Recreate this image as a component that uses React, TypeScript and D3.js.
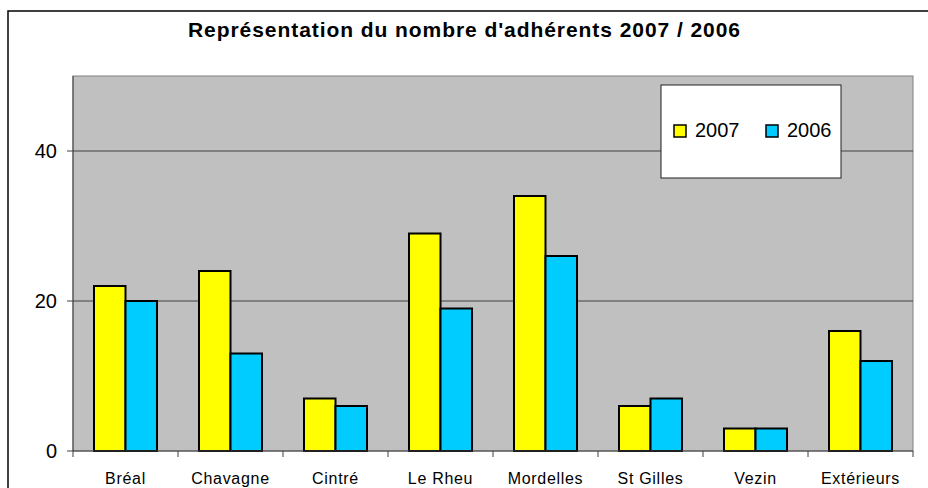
import React from 'react';
import * as d3 from 'd3';

// data
const communes = ['Bréal', 'Chavagne', 'Cintré', 'Le Rheu', 'Mordelles', 'St Gilles', 'Vezin', 'Extérieurs'];
const series = ['2007', '2006'];
const values2007 = [22, 24, 7, 29, 34, 6, 3, 16];
const values2006 = [20, 13, 6, 19, 26, 7, 3, 12];
const yTicks = [0, 20, 40];
const colors = ['#FFFF00', '#00CCFF'];

const W = 928;
const H = 488;
const plot = { left: 73, right: 913, top: 76, bottom: 451 };
const font = '"Liberation Sans", Arial, sans-serif';

const App = () => {
  const x = d3.scaleBand().domain(communes).range([plot.left, plot.right]);
  const inner = d3.scaleBand().domain(series).range([0, x.bandwidth()]).paddingInner(0).paddingOuter(0.667);
  const y = d3.scaleLinear().domain([0, 50]).range([plot.bottom, plot.top]);
  const seriesValues = [values2007, values2006];

  // tick marks at the band edges on the x axis
  const xEdges = communes.map(c => x(c)).concat([plot.right]);

  return (
    <div style={{ position: 'absolute', left: 0, top: 0 }}>
      <svg width={W} height={H} style={{ display: 'block', fontFamily: font }}>
        <rect x={0} y={0} width={W} height={H} fill="#fff" />
        <rect x={8} y={11} width={W + 20} height={H + 20} fill="none" stroke="#000" strokeWidth={1.5} />

        <text x={464} y={37} textAnchor="middle" fontSize={21} fontWeight="bold" textLength={552} lengthAdjust="spacing">
          Représentation du nombre d'adhérents 2007 / 2006
        </text>

        {/* plot area */}
        <rect x={plot.left} y={plot.top} width={plot.right - plot.left} height={plot.bottom - plot.top}
          fill="#C0C0C0" stroke="#808080" strokeWidth={1} />

        {yTicks.filter(t => t > 0).map(t => (
          <line key={'g' + t} x1={plot.left} x2={plot.right} y1={y(t)} y2={y(t)} stroke="#404040" strokeWidth={1} />
        ))}

        {/* bars */}
        {communes.map((c, i) => (
          <g key={c}>
            {series.map((s, j) => (
              <rect key={s}
                x={x(c)! + inner(s)!}
                y={y(seriesValues[j][i])}
                width={inner.bandwidth()}
                height={y(0) - y(seriesValues[j][i])}
                fill={colors[j]} stroke="#000" strokeWidth={2} />
            ))}
          </g>
        ))}

        {/* axes */}
        <line x1={plot.left} x2={plot.left} y1={plot.top} y2={plot.bottom} stroke="#404040" strokeWidth={1} />
        <line x1={plot.left} x2={plot.right} y1={plot.bottom} y2={plot.bottom} stroke="#404040" strokeWidth={1} />
        {yTicks.map(t => (
          <g key={'y' + t}>
            <line x1={plot.left - 6} x2={plot.left} y1={y(t)} y2={y(t)} stroke="#404040" />
            <text x={57} y={y(t)} dy="0.36em" textAnchor="end" fontSize={20}>{t}</text>
          </g>
        ))}
        {xEdges.map((e, i) => (
          <line key={'xt' + i} x1={e} x2={e} y1={plot.bottom} y2={plot.bottom + 6} stroke="#404040" />
        ))}
        {communes.map(c => (
          <text key={'l' + c} x={x(c)! + x.bandwidth() / 2} y={484} textAnchor="middle" fontSize={16} letterSpacing={0.7}>
            {c}
          </text>
        ))}

        {/* legend */}
        <rect x={661} y={85} width={180} height={93} fill="#fff" stroke="#202020" strokeWidth={1} />
        {series.map((s, j) => (
          <g key={'lg' + s} transform={`translate(${674 + j * 92},125)`}>
            <rect x={0} y={0} width={12} height={12} fill={colors[j]} stroke="#000" strokeWidth={1.5} />
            <text x={21} y={12} fontSize={20}>{s}</text>
          </g>
        ))}
      </svg>
    </div>
  );
};

export default App;
